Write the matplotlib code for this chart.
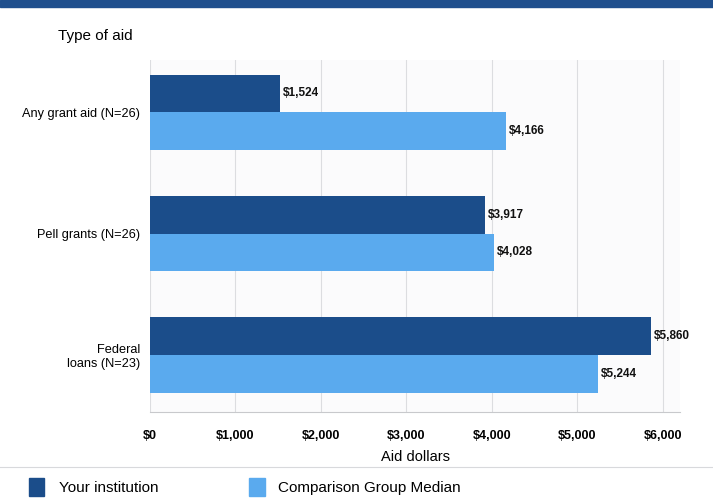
import matplotlib
matplotlib.use("Agg")
import matplotlib.pyplot as plt
from matplotlib.patches import Rectangle
import numpy as np

plt.rcParams['font.family'] = ['Liberation Sans', 'DejaVu Sans']

categories = ["Any grant aid (N=26)", "Pell grants (N=26)", "Federal\nloans (N=23)"]
your_institution = [1524, 3917, 5860]
comparison_median = [4166, 4028, 5244]
tick_values = [0, 1000, 2000, 3000, 4000, 5000, 6000]
tick_labels = ["$0", "$1,000", "$2,000", "$3,000", "$4,000", "$5,000", "$6,000"]
series_names = ["Your institution", "Comparison Group Median"]

dark = "#1b4d8a"
light = "#5aaaee"

fig = plt.figure(figsize=(7.13, 5.0), dpi=100)
fig.patch.set_facecolor("white")

# header band
fig.add_artist(Rectangle((0, 0.986), 1, 0.014, transform=fig.transFigure,
                         color="#1f4f8d", zorder=5))

ax = fig.add_axes([0.2104, 0.176, 0.7433, 0.704])
ax.set_facecolor("#fbfbfc")
y = np.arange(len(categories))
h = 0.31
ax.barh(y - h / 2, your_institution, height=h, color=dark, zorder=3)
ax.barh(y + h / 2, comparison_median, height=h, color=light, zorder=3)

for yi, v in zip(y - h / 2, your_institution):
    ax.text(v + 35, yi, f"${v:,}", va="center", ha="left",
            fontsize=8.5, fontweight="bold", color="#111111")
for yi, v in zip(y + h / 2, comparison_median):
    ax.text(v + 35, yi, f"${v:,}", va="center", ha="left",
            fontsize=8.5, fontweight="bold", color="#111111")

ax.set_xlim(0, 6200)
ax.set_ylim(2.47, -0.43)
ax.set_xticks(tick_values)
ax.set_xticklabels(tick_labels, fontsize=9, fontweight="bold")
ax.set_yticks(y)
ax.set_yticklabels(categories, fontsize=9.2, ha="right")
ax.tick_params(axis="both", length=0, pad=7)
ax.tick_params(axis="x", pad=13)
ax.grid(axis="x", color="#dcdde0", linewidth=0.8, zorder=0)
for s in ["top", "right", "left"]:
    ax.spines[s].set_visible(False)
ax.spines["bottom"].set_color("#c8c9cc")
ax.set_xlabel("Aid dollars", fontsize=10.5, labelpad=6)

fig.text(0.081, 0.928, "Type of aid", fontsize=11, ha="left", va="center")

# separator above legend
fig.add_artist(plt.Line2D([0, 1], [0.066, 0.066], transform=fig.transFigure,
                          color="#d8d9dc", linewidth=0.8))

# legend
fig.add_artist(Rectangle((0.04, 0.008), 0.022, 0.037, transform=fig.transFigure,
                         color=dark))
fig.text(0.083, 0.024, series_names[0], fontsize=11, va="center", ha="left")
fig.add_artist(Rectangle((0.349, 0.008), 0.022, 0.037, transform=fig.transFigure,
                         color=light))
fig.text(0.39, 0.024, series_names[1], fontsize=11, va="center", ha="left")

fig.savefig("out.png", dpi=100)
